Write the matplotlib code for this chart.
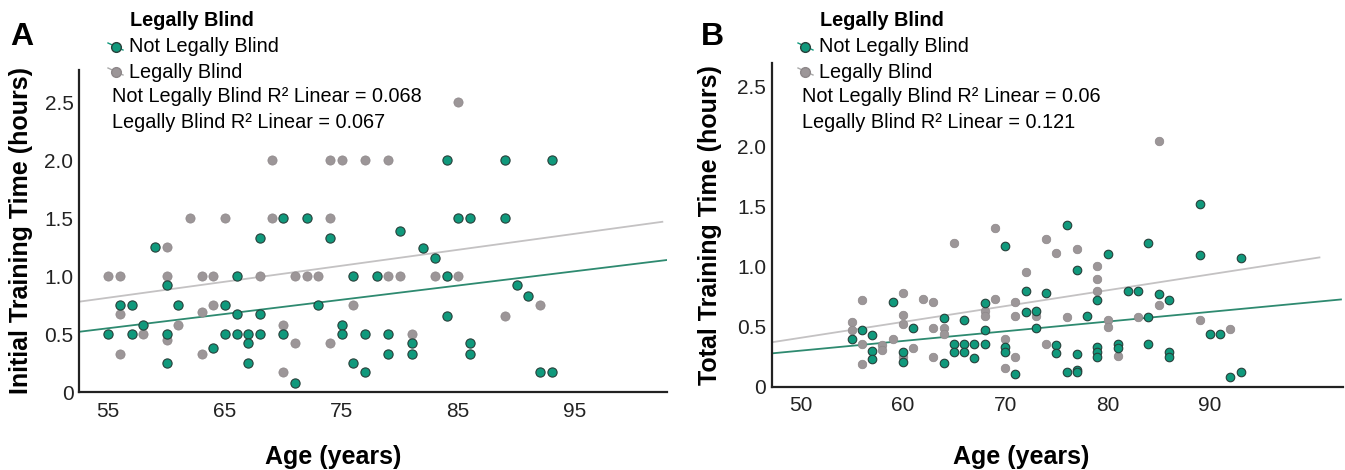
import matplotlib
matplotlib.use("Agg")
import matplotlib.pyplot as plt
from matplotlib.lines import Line2D
import numpy as np

plt.rcParams["font.family"] = ["Liberation Sans", "DejaVu Sans"]

GREEN = "#10997c"
GREEN_LINE = "#2e8a70"
GREY = "#9c9698"
GREY_LINE = "#c4c2c3"

# ---- panel A: initial training time ----
a_not_age = [55, 56, 57, 57, 58, 59, 60, 60, 60, 61, 64, 65, 65, 66, 66, 66, 67, 67, 67, 68, 68, 68,
             70, 70, 71, 72, 73, 74, 75, 75, 76, 76, 77, 77, 78, 79, 79, 80, 81, 81, 82, 83, 84, 84, 84,
             85, 86, 86, 86, 89, 89, 90, 91, 92, 93, 93]
a_not_hours = [0.5, 0.75, 0.75, 0.5, 0.58, 1.25, 0.92, 0.5, 0.25, 0.75, 0.38, 0.75, 0.5, 1.0, 0.67, 0.5,
               0.5, 0.42, 0.25, 1.33, 0.67, 0.5, 1.5, 0.5, 0.08, 1.5, 0.75, 1.33, 0.58, 0.5, 1.0, 0.25,
               0.5, 0.17, 1.0, 0.5, 0.33, 1.39, 0.42, 0.33, 1.24, 1.16, 2.0, 1.0, 0.66, 1.5, 1.5, 0.42,
               0.33, 2.0, 1.5, 0.92, 0.83, 0.17, 2.0, 0.17]
a_blind_age = [55, 56, 56, 56, 58, 60, 60, 60, 61, 62, 63, 63, 63, 64, 64, 65, 68, 69, 69, 70, 70, 71, 71,
               72, 73, 74, 74, 74, 75, 76, 77, 79, 79, 80, 81, 83, 85, 85, 89, 92]
a_blind_hours = [1.0, 1.0, 0.67, 0.33, 0.5, 1.25, 1.0, 0.45, 0.58, 1.5, 1.0, 0.69, 0.33, 1.0, 0.75, 1.5,
                 1.0, 2.0, 1.5, 0.58, 0.17, 1.0, 0.42, 1.0, 1.0, 2.0, 1.5, 0.42, 2.0, 0.75, 2.0, 2.0, 1.0,
                 1.0, 0.5, 1.0, 2.5, 1.0, 0.66, 0.75]
# fit lines: (slope, intercept, x start, x end)
a_not_fit = (0.0123, -0.126, 52.5, 102.9)
a_blind_fit = (0.0138, 0.055, 52.5, 102.5)
a_r2 = ("0.068", "0.067")

# ---- panel B: total training time ----
b_not_age = [55, 56, 57, 57, 57, 59, 60, 60, 61, 64, 64, 65, 65, 66, 66, 66, 67, 67, 68, 68, 68, 70, 70,
             70, 71, 72, 72, 73, 73, 74, 75, 75, 76, 76, 77, 77, 77, 77, 78, 79, 79, 79, 79, 80, 81, 81,
             82, 83, 84, 84, 84, 85, 86, 86, 86, 89, 89, 90, 91, 92, 93, 93]
b_not_hours = [0.395, 0.47, 0.43, 0.30, 0.235, 0.71, 0.29, 0.21, 0.49, 0.57, 0.20, 0.36, 0.29, 0.56, 0.36,
               0.29, 0.36, 0.24, 0.70, 0.47, 0.36, 1.175, 0.33, 0.29, 0.11, 0.80, 0.62, 0.63, 0.49, 0.78,
               0.35, 0.28, 1.345, 0.12, 0.97, 0.27, 0.14, 0.12, 0.59, 0.72, 0.33, 0.29, 0.25, 1.11, 0.36,
               0.32, 0.80, 0.80, 1.2, 0.58, 0.36, 0.77, 0.72, 0.29, 0.25, 1.52, 1.10, 0.44, 0.44, 0.08,
               1.075, 0.125]
b_blind_age = [55, 55, 56, 56, 56, 58, 58, 59, 60, 60, 60, 60, 61, 62, 63, 63, 63, 64, 64, 65, 68, 68, 69,
               69, 70, 70, 71, 71, 71, 72, 73, 74, 74, 75, 76, 77, 79, 79, 79, 80, 80, 81, 83, 85, 85, 89, 92]
b_blind_hours = [0.54, 0.47, 0.72, 0.36, 0.19, 0.35, 0.31, 0.395, 0.78, 0.60, 0.52, 0.25, 0.32, 0.73, 0.71,
                 0.49, 0.25, 0.49, 0.44, 1.2, 0.63, 0.59, 1.32, 0.73, 0.395, 0.158, 0.71, 0.59, 0.25, 0.96,
                 0.59, 1.23, 0.36, 1.117, 0.58, 1.15, 1.01, 0.90, 0.80, 0.556, 0.50, 0.26, 0.58, 2.05, 0.68,
                 0.56, 0.48]
b_not_fit = (0.00809, -0.104, 47.2, 102.8)
b_blind_fit = (0.01323, -0.254, 47.2, 100.7)
b_r2 = ("0.06", "0.121")

y_ticks = [0, 0.5, 1.0, 1.5, 2.0, 2.5]
y_tick_labels = ["0", "0.5", "1.0", "1.5", "2.0", "2.5"]

W, H = 1345, 470
fig = plt.figure(figsize=(W / 100, H / 100), dpi=100)


def fpx(x, y):
    # figure pixel (from top-left) -> figure fraction
    return x / W, 1 - y / H


def draw_panel(rect, letter, ox, not_age, not_hours, blind_age, blind_hours, not_fit, blind_fit, r2,
               xlim, ylim, xticks, ylabel, size, ylab_x, xlab_x, xlab_y):
    ax = fig.add_axes(rect)
    for fit, col in ((not_fit, GREEN_LINE), (blind_fit, GREY_LINE)):
        xs = np.array([fit[2], fit[3]])
        ax.plot(xs, fit[0] * xs + fit[1], color=col, lw=1.3, zorder=1)
    ax.scatter(blind_age, blind_hours, s=size, color=GREY, edgecolors="#8d8789", linewidths=0.5, zorder=2)
    ax.scatter(not_age, not_hours, s=size, color=GREEN, edgecolors="#27403a", linewidths=0.8, zorder=3)
    ax.set_xlim(*xlim)
    ax.set_ylim(*ylim)
    ax.set_xticks(xticks, [str(t) for t in xticks])
    ax.set_yticks(y_ticks, y_tick_labels)
    ax.tick_params(length=0, labelsize=15, colors="#222222")
    ax.tick_params(axis="x", pad=7)
    ax.tick_params(axis="y", pad=4)
    for s in ("top", "right"):
        ax.spines[s].set_visible(False)
    for s in ("left", "bottom"):
        ax.spines[s].set_linewidth(1.6)
        ax.spines[s].set_color("#222222")
    ax.set_ylabel(ylabel, fontsize=18, fontweight="bold")
    ax.yaxis.set_label_coords(ylab_x, 0.5)
    ax.set_xlabel("Age (years)", fontsize=18, fontweight="bold")
    ax.xaxis.set_label_coords(xlab_x, xlab_y)

    # panel letter
    fig.text(*fpx(ox + 22, 37), letter, fontsize=23, fontweight="bold", ha="center", va="center")
    # legend
    fig.text(*fpx(ox + 130, 20), "Legally Blind", fontsize=14.3, fontweight="bold", va="center")
    for yy, col, ec, lab in ((47, GREEN, "#27403a", "Not Legally Blind"), (72, GREY, "#8d8789", "Legally Blind")):
        x0, y0 = fpx(ox + 108, yy - 4)
        x1, y1 = fpx(ox + 123, yy + 3)
        fig.add_artist(Line2D([x0, (x0 + x1) / 2, x1], [y0, (y0 + y1) / 2, y1], transform=fig.transFigure,
                              color=col if col == GREEN else "#aaaaaa", lw=1.0, marker="o", markevery=[1],
                              markersize=7, markerfacecolor=col, markeredgecolor=ec))
        fig.text(*fpx(ox + 129, yy), lab, fontsize=14.3, va="center")
    fig.text(*fpx(ox + 112, 97), "Not Legally Blind R\u00b2 Linear = " + r2[0], fontsize=14.3, va="center")
    fig.text(*fpx(ox + 112, 122), "Legally Blind R\u00b2 Linear = " + r2[1], fontsize=14.3, va="center")
    return ax


draw_panel([79 / W, 1 - 392 / H, 588 / W, 322 / H], "A", 0,
           a_not_age, a_not_hours, a_blind_age, a_blind_hours, a_not_fit, a_blind_fit, a_r2,
           (52.5, 102.9), (0, 2.78), [55, 65, 75, 85, 95], "Initial Training Time (hours)", 44,
           -0.078, 0.432, -0.165)
draw_panel([771.7 / W, 1 - 386.7 / H, 571.3 / W, 323.7 / H], "B", 690,
           b_not_age, b_not_hours, b_blind_age, b_blind_hours, b_not_fit, b_blind_fit, b_r2,
           (47.2, 103.0), (0, 2.70), [50, 60, 70, 80, 90], "Total Training Time (hours)", 38,
           -0.087, 0.437, -0.18)

fig.savefig("out.png", dpi=100, facecolor="white")
